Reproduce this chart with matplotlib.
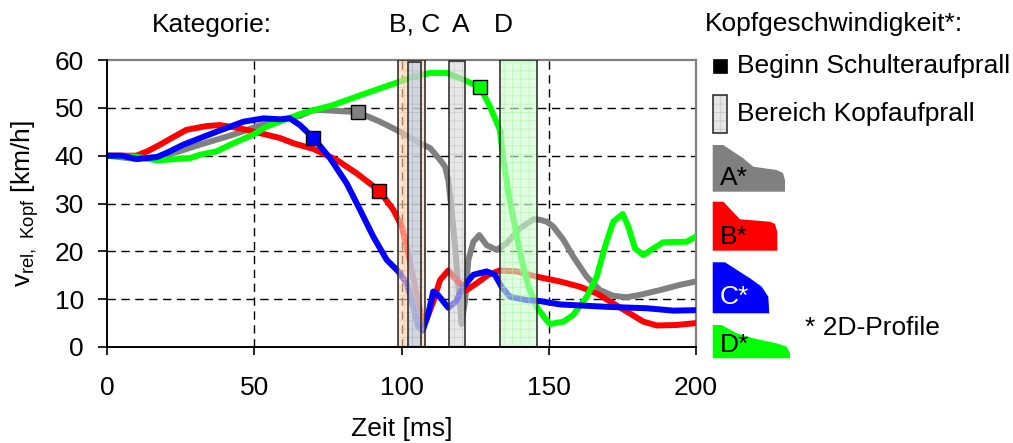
import matplotlib
matplotlib.use("Agg")
import matplotlib.pyplot as plt
from matplotlib.patches import Rectangle, Polygon

plt.rcParams['font.family'] = ['Liberation Sans', 'DejaVu Sans']
plt.rcParams['hatch.linewidth'] = 0.6
plt.rcParams['mathtext.default'] = 'regular'

# ---------------- data ----------------
t_A = [0, 9.8, 18, 25, 31.6, 42.9, 54.2, 65.5, 70.1, 76.8, 85.1, 92.7, 99.5, 106.3, 109.7,
       113.1, 114.8, 115.9, 117.0, 118.2, 119.3, 120.4, 121.6, 122.7, 124.4, 126.4, 128.9,
       132.3, 135.7, 140.2, 144.8, 147.0, 149.3, 151.5, 155.0, 158.3, 162.9, 167.4, 171.9,
       176.5, 181.0, 187.8, 194.6, 200]
v_A = [40, 39.3, 39.8, 41.0, 42.3, 44.4, 46.8, 48.3, 49.6, 49.4, 49.1, 47.1, 45.0, 42.6, 41.6,
       39.1, 37.7, 34.9, 28.7, 21.0, 12.6, 4.8, 9.8, 18.2, 22.0, 23.4, 21.3,
       20.3, 21.7, 24.8, 26.7, 26.6, 26.2, 25.2, 22.4, 18.9, 14.7, 11.9, 10.7,
       10.4, 10.9, 11.9, 13.0, 13.7]

t_B = [0, 10, 14, 18, 22, 27, 33.9, 38.4, 45.2, 52, 58.7, 63.3, 70.1, 78, 84.8, 92.4, 97.2,
       100.1, 102.3, 104.6, 106.9, 108.3, 110.8, 113.1, 115.9, 118.7, 122.1, 125.5, 129.5,
       133.4, 139.1, 145.9, 153.8, 160.6, 166.3, 171.9, 177.6, 182.1, 186.7, 193.4, 200]
v_B = [40, 40, 41.0, 42.3, 43.7, 45.4, 46.2, 46.4, 45.7, 44.7, 43.7, 42.6, 41.4, 39.1, 36.3, 32.7, 28.7,
       25.2, 19.6, 12.6, 6.0, 5.5, 9.5, 14.0, 16.0, 14.0, 11.9, 13.3, 15.1,
       16.0, 15.8, 14.7, 13.7, 12.6, 11.2, 9.1, 7.0, 5.3, 4.5, 4.6, 5.0]

t_C = [0, 5, 10.1, 16.9, 21, 25.9, 37.2, 46.3, 53.1, 58.7, 62.1, 65.5, 70.1, 75.7, 81.4, 85.9,
       90.4, 95.0, 98.9, 101.8, 104.0, 105.7, 107.2, 109.1, 110.8, 112.5, 115.9, 118.5, 121.0,
       124.4, 128.9, 131.7, 134.0, 136.8, 142.5, 147, 153.8, 169.7, 183.3, 192.3, 200]
v_C = [40, 40, 39.3, 39.7, 40.8, 42.3, 45.0, 47.1, 47.8, 47.6, 47.8, 46.4, 43.7, 39.5, 34.2, 28.7,
       23.1, 18.2, 15.8, 13.3, 8.4, 4.2, 3.4, 7.0, 11.6, 10.8, 8.2, 9.5, 12.6,
       15.1, 15.8, 15.1, 12.6, 10.5, 9.8, 9.6, 8.9, 8.4, 8.1, 7.6, 7.7]

t_D = [0, 9.8, 16.9, 28.2, 31.6, 37.2, 42.9, 49.7, 54.2, 65.5, 76.8, 88.2, 99.5, 104, 109.7,
       115.3, 121, 126.7, 130, 133.4, 134.6, 136.3, 138.5, 140.8, 143.1, 145.9, 148.7, 150.4,
       155, 158.3, 162.9, 166.3, 169.1, 171.9, 175.1, 177, 179.3, 182.1, 185.5, 188.9, 196.8, 200]
v_D = [40, 39.8, 39.0, 39.5, 40.2, 40.9, 42.6, 44.4, 46.1, 48.7, 50.6, 53.1, 55.5, 56.5, 57.3,
       57.3, 55.9, 54.3, 50.3, 45.4, 39.1, 32.2, 25.2, 18.2, 12.6, 8.4, 6.0, 4.8,
       5.3, 6.7, 10.5, 14.7, 21.0, 26.2, 27.8, 25.2, 20.6, 19.2, 20.6, 21.9, 22.0, 23.1]

# shoulder impact start (A, B, C, D)
shoulder_t = [85.1, 92.4, 70.1, 126.7]
shoulder_v = [49.1, 32.7, 43.7, 54.3]

# head impact ranges
band_B = (98.8, 108.0)
band_C = (102.2, 106.6)
band_A = (116.1, 121.6)
band_D = (133.4, 146.0)

colors = {'A': '#808080', 'B': '#ff0000', 'C': '#0000ff', 'D': '#00ff00'}

xticks = [0, 50, 100, 150, 200]
yticks = [0, 10, 20, 30, 40, 50, 60]

FS = 19

# ---------------- figure ----------------
fig = plt.figure(figsize=(10.13, 4.43), dpi=100)
ax = fig.add_axes([107/1013, (443-347)/443, (696-107)/1013, (347-60)/443])
ax.set_xlim(0, 200)
ax.set_ylim(0, 60)
ax.set_xticks(xticks)
ax.set_yticks(yticks)

dash = (0, (6, 4))
for y in yticks[1:-1]:
    ax.axhline(y, color='black', lw=1.0, ls=dash, zorder=1)
for x in xticks[1:-1]:
    ax.axvline(x, color='black', lw=1.0, ls=dash, zorder=1)

lw = 4.3
kw = dict(lw=lw, solid_capstyle='round', solid_joinstyle='round')
ax.plot(t_A, v_A, color=colors['A'], zorder=3, **kw)
ax.plot(t_B, v_B, color=colors['B'], zorder=3, **kw)
ax.plot(t_D, v_D, color=colors['D'], zorder=3, **kw)
ax.plot(t_C, v_C, color=colors['C'], zorder=3.1, **kw)


def band(rng, face, hatchc, y0=0.0, y1=60.0, z=4):
    x0, x1 = rng
    ax.add_patch(Rectangle((x0, y0), x1 - x0, y1 - y0, facecolor=face, edgecolor=hatchc,
                           hatch='++', lw=0, alpha=0.6, zorder=z))
    ax.add_patch(Rectangle((x0, y0), x1 - x0, y1 - y0, facecolor='none', edgecolor='#222222',
                           lw=1.1, zorder=z + 0.05))


band(band_B, '#fcd5b4', '#f5b98a', 0, 60)
band(band_C, '#b8cce4', '#9fb8d8', 0, 59.5, z=4.2)
band(band_A, '#d9d9d9', '#bdbdbd', 0, 59.7)
band(band_D, '#ccffcc', '#a8f0a8', 0, 60)

for tt, vv, c in zip(shoulder_t, shoulder_v, ['A', 'B', 'C', 'D']):
    ax.plot([tt], [vv], marker='s', ms=9.5, mfc=colors[c], mec='black', mew=1.0,
            ls='none', zorder=6)

for s in ['left', 'bottom']:
    ax.spines[s].set_color('black')
    ax.spines[s].set_linewidth(1.4)
for s in ['top', 'right']:
    ax.spines[s].set_color('#808080')
    ax.spines[s].set_linewidth(1.6)
ax.spines['left'].set_zorder(7)
ax.spines['bottom'].set_zorder(7)

ax.tick_params(axis='y', direction='out', length=6.5, width=1.2, pad=10, labelsize=FS)
ax.tick_params(axis='x', direction='out', length=6.0, width=1.2, pad=15, labelsize=FS)

ax.set_xlabel('Zeit [ms]', fontsize=FS)
ax.xaxis.set_label_coords(0.5, -0.245)
ax.set_ylabel(r'v$_{\mathregular{rel,\ Kopf}}$ [km/h]', fontsize=FS)
ax.yaxis.set_label_coords(-0.112, 0.5)

ytop = (347 - 25) / 287
ax.text(15.1, ytop, 'Kategorie:', transform=ax.get_xaxis_transform(),
        ha='left', va='center', fontsize=FS)
ax.text(104.6, ytop, 'B, C', transform=ax.get_xaxis_transform(),
        ha='center', va='center', fontsize=FS)
ax.text(120.2, ytop, 'A', transform=ax.get_xaxis_transform(),
        ha='center', va='center', fontsize=FS)
ax.text(134.5, ytop, 'D', transform=ax.get_xaxis_transform(),
        ha='center', va='center', fontsize=FS)

# ---------------- legend area (pixel overlay) ----------------
ov = fig.add_axes([0, 0, 1, 1], zorder=10)
ov.set_xlim(0, 1013)
ov.set_ylim(443, 0)
ov.axis('off')
ov.patch.set_alpha(0)

ov.text(705, 24, 'Kopfgeschwindigkeit*:', ha='left', va='center', fontsize=FS)
ov.add_patch(Rectangle((713, 59), 14, 14, facecolor='black', edgecolor='black', lw=0.5))
ov.text(737, 66, 'Beginn Schulteraufprall', ha='left', va='center', fontsize=FS)
ov.add_patch(Rectangle((713, 95), 14, 38, facecolor='#e6e6e6', edgecolor='#c8c8c8',
                       hatch='++', lw=0))
ov.add_patch(Rectangle((713, 95), 14, 38, facecolor='none', edgecolor='#222222', lw=1.1))
ov.text(737, 114, 'Bereich Kopfaufprall', ha='left', va='center', fontsize=FS)

prof_A = [(712.7, 145), (723.3, 145), (743.3, 158.3), (753.3, 166.7), (776.7, 170),
          (783, 173), (785, 180), (785, 191.7), (712.7, 191.7)]
prof_B = [(712.7, 201.7), (723.3, 201.7), (740, 219.3), (770, 221.7), (775, 224),
          (777.3, 232), (777.3, 250.7), (712.7, 250.7)]
prof_C = [(712.7, 262.3), (725, 262.3), (750, 278.3), (761.7, 286.7), (768.3, 296.7),
          (769.3, 313.3), (712.7, 313.3)]
prof_D = [(712.7, 325), (721.7, 325), (736.7, 333.3), (753.3, 338.3), (776.7, 343.3),
          (786.7, 346.7), (790, 353.3), (790, 358.3), (712.7, 358.3)]
for poly, c, lab, ly, tc in [(prof_A, 'A', 'A*', 178, 'black'),
                             (prof_B, 'B', 'B*', 237, 'black'),
                             (prof_C, 'C', 'C*', 297, 'white'),
                             (prof_D, 'D', 'D*', 345, 'black')]:
    ov.add_patch(Polygon(poly, closed=True, facecolor=colors[c], edgecolor='none'))
    ov.text(720, ly, lab, ha='left', va='center', fontsize=FS, color=tc)

ov.text(805, 328, '* 2D-Profile', ha='left', va='center', fontsize=FS)

fig.savefig('out.png', dpi=100)
